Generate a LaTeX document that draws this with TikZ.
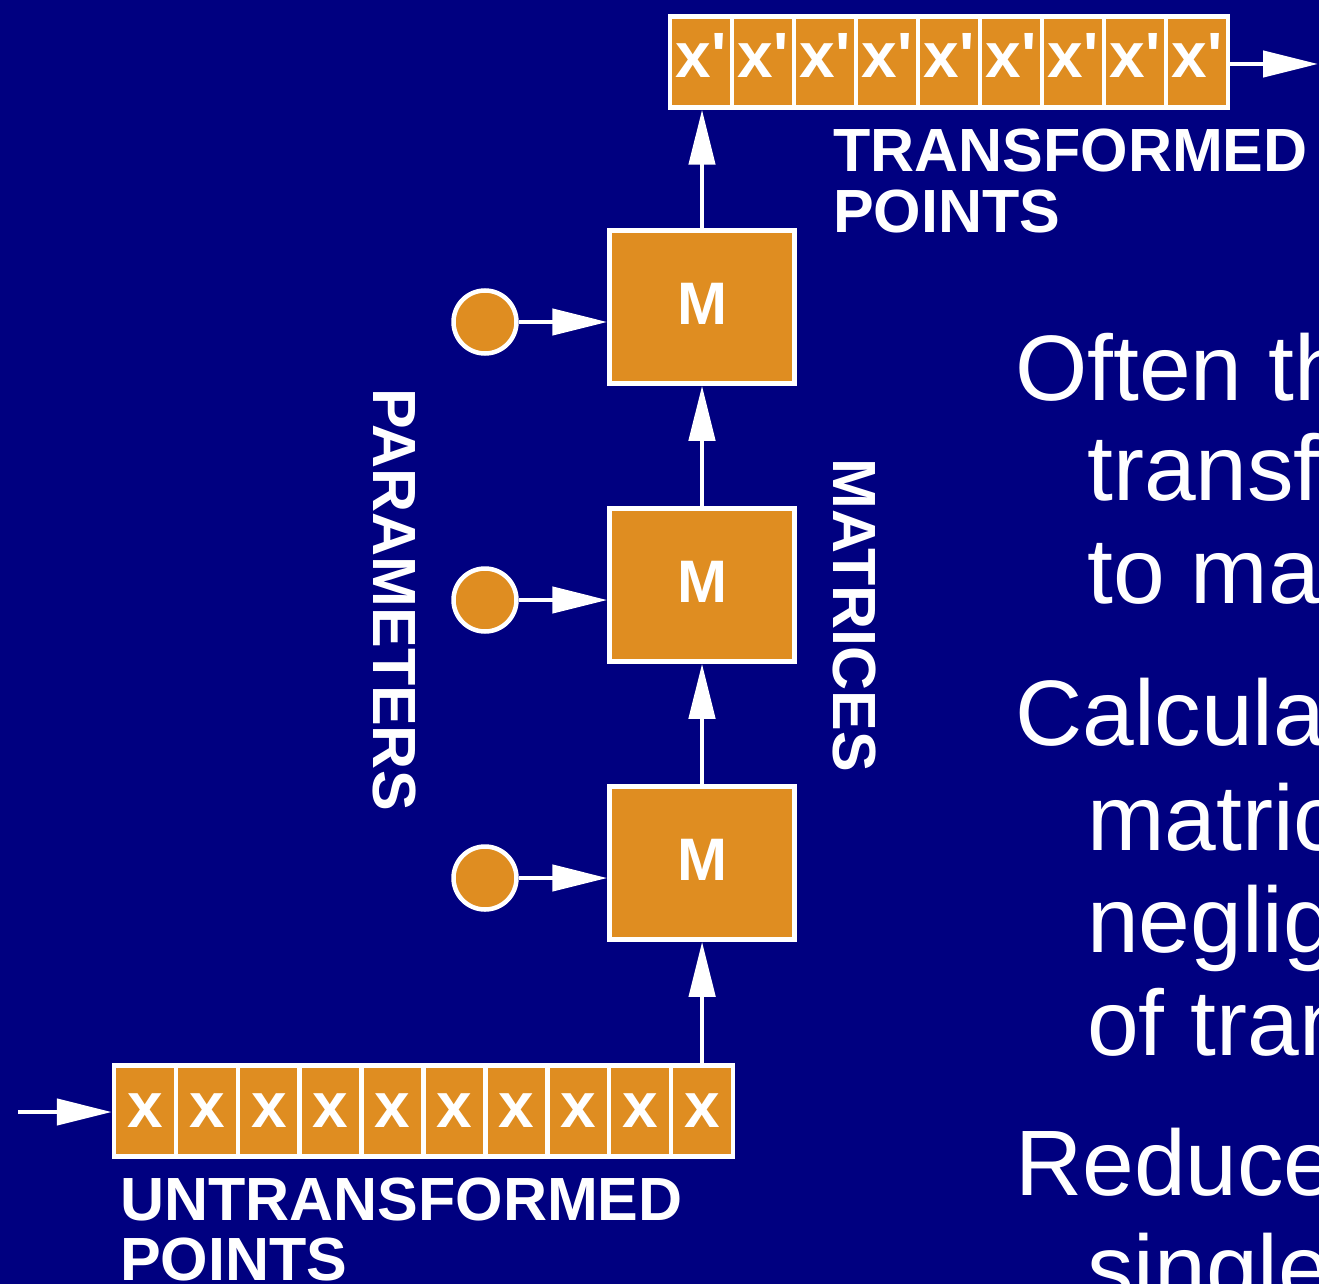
\documentclass[tikz,border=0pt]{standalone}
\usepackage{fontspec}
\setmainfont{Liberation Sans}
\usetikzlibrary{arrows.meta}
\definecolor{navy}{RGB}{0,0,128}
\definecolor{orng}{RGB}{223,141,33}
\begin{document}
\begin{tikzpicture}[x=1pt,y=-1pt,
  cell/.style={draw=white,fill=orng,line width=4.5pt,minimum width=62pt,minimum height=91pt,
    inner sep=0pt,text=white,font=\fontsize{64}{64}\selectfont\bfseries,text height=32pt,text depth=0pt},
  mbox/.style={draw=white,fill=orng,line width=4.5pt,minimum width=185pt,minimum height=153pt,
    inner sep=0pt,text=white,font=\fontsize{60}{60}\selectfont\bfseries,text height=35pt,text depth=0pt},
  param/.style={circle,draw=white,fill=orng,line width=4.5pt,minimum size=63pt,inner sep=0pt},
  arr/.style={draw=white,line width=4.5pt,-{Triangle[length=55pt,width=26pt]}},
  lbl/.style={text=white,font=\fontsize{61}{61}\selectfont\bfseries,inner sep=0pt,anchor=base west},
  body/.style={text=white,font=\fontsize{93}{103}\selectfont,inner sep=0pt,anchor=base west}]
\useasboundingbox (0,0) rectangle (1319,1284);
\clip (0,0) rectangle (1319,1284);
\fill[navy] (0,0) rectangle (1319,1284);

% top array
\foreach \i in {1,...,9}
  \node[cell] (t\i) at ({701+62*(\i-1)},62) {x\textquotesingle};
% bottom array
\foreach \i in {1,...,10}
  \node[cell] (b\i) at ({145+61.9*(\i-1)},1111) {x};

% matrices
\node[mbox] (m1) at (702,307) {M};
\node[mbox] (m2) at (702,585) {M};
\node[mbox] (m3) at (702,863) {M};

% parameters
\node[param] (p1) at (485,322) {};
\node[param] (p2) at (485,600) {};
\node[param] (p3) at (485,878) {};

\draw[arr] (p1.east) -- (p1.east -| m1.west);
\draw[arr] (p2.east) -- (p2.east -| m2.west);
\draw[arr] (p3.east) -- (p3.east -| m3.west);

\draw[arr] (b10.north) -- (b10.north |- m3.south);
\draw[arr] (m3.north) -- (m2.south);
\draw[arr] (m2.north) -- (m1.south);
\draw[arr] (m1.north) -- (m1.north |- t1.south);

\coordinate (in) at (18,1112);
\draw[arr] (in) -- (in -| b1.west);
\coordinate (out) at (1318,64);
\draw[arr] (out -| t9.east) -- (out);

% labels
\node[lbl] (lt1) at (833,172) {TRANSFORMED};
\node[lbl] (lt2) at (833,232) {POINTS};
\node[lbl] (lu1) at (120,1220) {UNTRANSFORMED};
\node[lbl] (lu2) at (120,1280) {POINTS};
\node[lbl,rotate=-90] (lp) at (373,388) {PARAMETERS};
\node[lbl,rotate=-90] (lm) at (833,458) {MATRICES};

% body text (cut off by the picture's right edge, as in the reference)
\node[body] (s1) at (1015,400) {Often th};
\node[body] (s2) at (1087,500) {transf};
\node[body] (s3) at (1087,603) {to ma};
\node[body] (s4) at (1015,745) {Calcula};
\node[body] (s5) at (1087,850) {matric};
\node[body] (s6) at (1087,952) {neglig};
\node[body] (s7) at (1087,1055) {of tran};
\node[body] (s8) at (1015,1195) {Reduce};
\node[body] (s9) at (1087,1300) {single};
\end{tikzpicture}
\end{document}
